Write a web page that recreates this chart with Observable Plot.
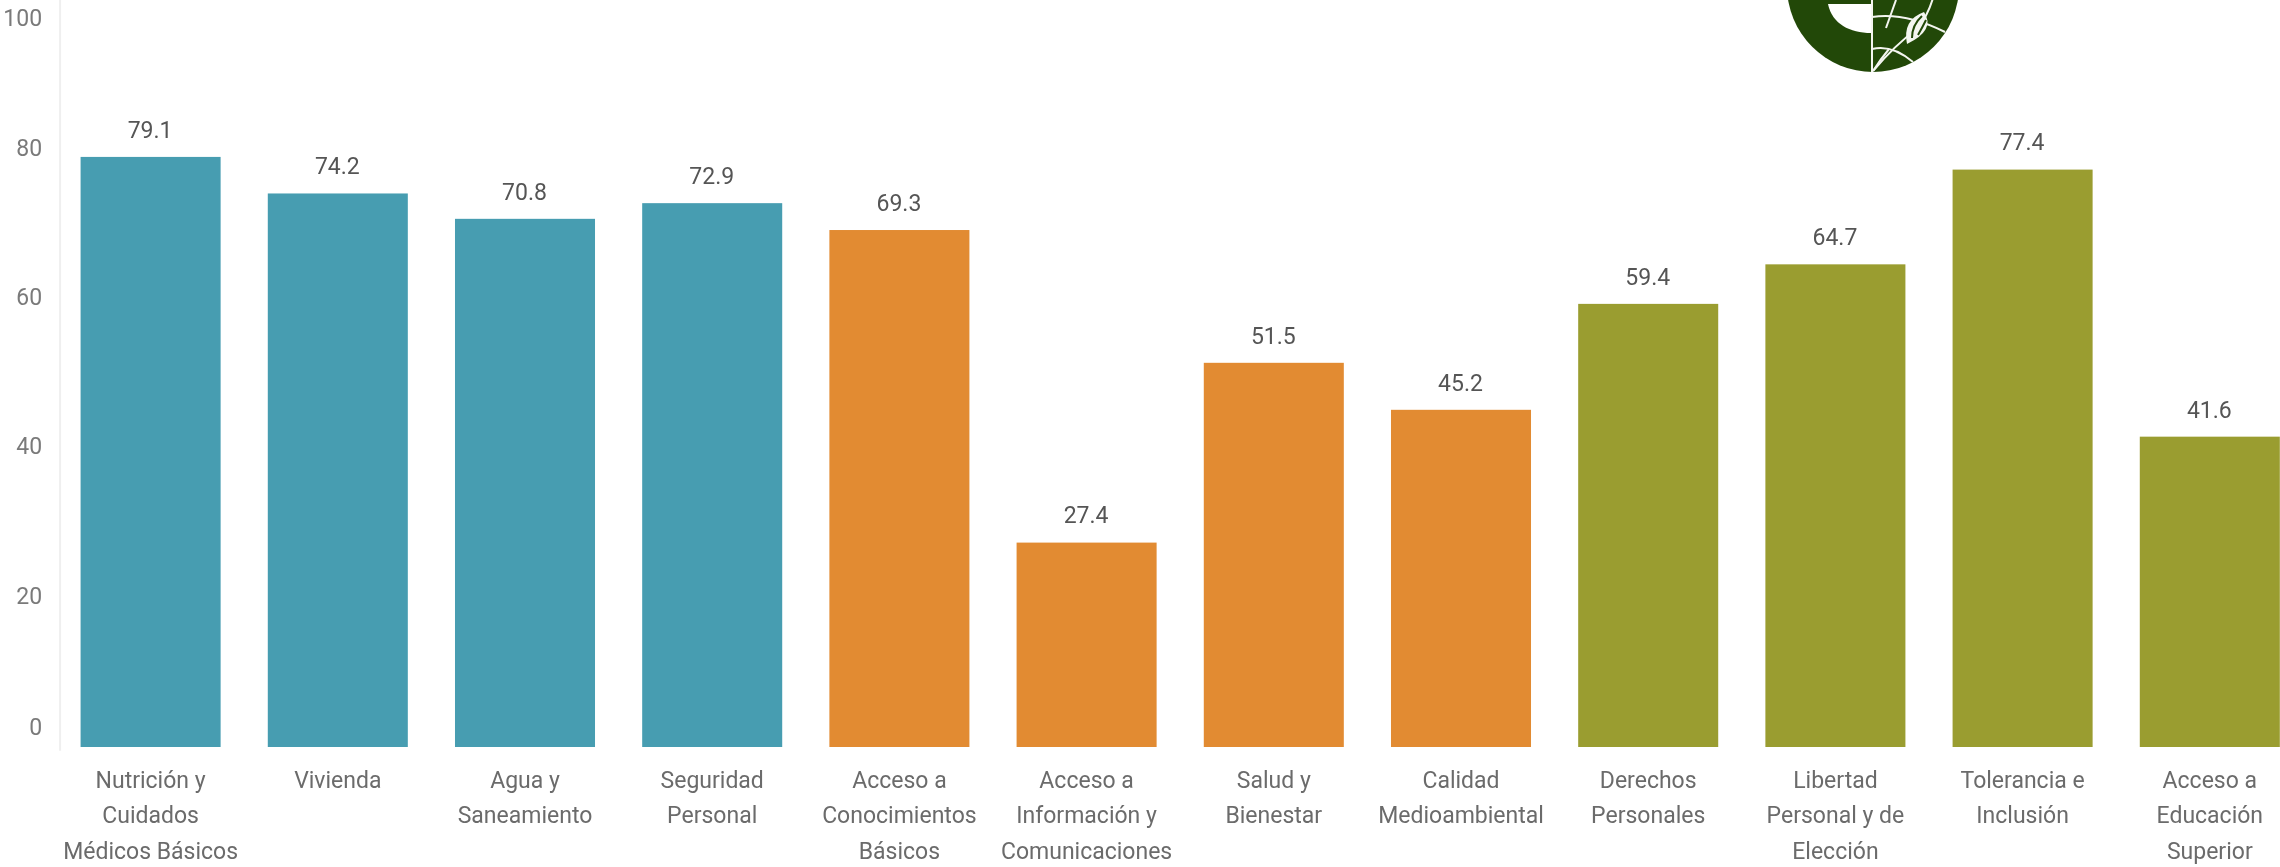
<!DOCTYPE html>
<html><head><meta charset="utf-8">
<script src="https://cdn.jsdelivr.net/npm/d3@7"></script>
<script src="https://cdn.jsdelivr.net/npm/@observablehq/plot@0.6"></script>
<style>
html,body{margin:0;padding:0;background:#fff;overflow:hidden}
#chart{position:relative;width:2280px;height:867px}
#chart>svg{position:absolute;left:0;top:0}
#chart text{filter:blur(.45px)}
</style></head><body><div id="chart"></div>
<script>
const categories=["Nutrición y Cuidados Médicos Básicos","Vivienda","Agua y Saneamiento","Seguridad Personal","Acceso a Conocimientos Básicos","Acceso a Información y Comunicaciones","Salud y Bienestar","Calidad Medioambiental","Derechos Personales","Libertad Personal y de Elección","Tolerancia e Inclusión","Acceso a Educación Superior"];
const labelLines=[["Nutrición y","Cuidados","Médicos Básicos"],["Vivienda"],["Agua y","Saneamiento"],["Seguridad","Personal"],["Acceso a","Conocimientos","Básicos"],["Acceso a","Información y","Comunicaciones"],["Salud y","Bienestar"],["Calidad","Medioambiental"],["Derechos","Personales"],["Libertad","Personal y de","Elección"],["Tolerancia e","Inclusión"],["Acceso a","Educación","Superior"]];
const values=[79.1,74.2,70.8,72.9,69.3,27.4,51.5,45.2,59.4,64.7,77.4,41.6];
const groups=["Necesidades","Necesidades","Necesidades","Necesidades","Bienestar","Bienestar","Bienestar","Bienestar","Oportunidades","Oportunidades","Oportunidades","Oportunidades"];
const groupNames=["Necesidades","Bienestar","Oportunidades"];
const groupColors=["#479db1","#e28b32","#9a9d30"];
const midTicks=[20,40,60,80];
const font="Roboto, sans-serif";
const ink="#6b6b6b";
const rows=categories.map((c,i)=>({c,v:values[i],g:groups[i],lines:labelLines[i].join("\n")}));
const tickText=(ticks,dy)=>Plot.text(ticks,{y:d=>d,x:()=>categories[0],dx:-109,textAnchor:"end",dy,fontSize:23,fill:"#7a7a7a",fontFamily:font});
const plot=Plot.plot({
  width:2280,height:867,
  marginTop:0,marginBottom:120,marginLeft:0,marginRight:0,
  style:{background:"#fff",fontFamily:font},
  x:{domain:categories,range:[57,2303.4],paddingInner:0.252,paddingOuter:0.126,round:false,axis:null},
  y:{domain:[0,100],range:[747,1],axis:null},
  color:{domain:groupNames,range:groupColors},
  marks:[
    Plot.ruleX([categories[0]],{dx:-91,y1:()=>-0.5,y2:()=>100.2,stroke:"#efefef",strokeWidth:2}),
    Plot.barY(rows,{x:"c",y:"v",fill:"g"}),
    Plot.text(rows,{x:"c",y:"v",text:d=>d.v.toFixed(1),dx:-1,dy:-27,fontSize:23,fill:"#555",fontFamily:font}),
    Plot.text(rows,{x:"c",y:()=>0,text:"lines",dx:-0.5,dy:15,lineHeight:1.55,fontSize:23,textAnchor:"middle",lineAnchor:"top",fill:ink,fontFamily:font}),
    tickText(midTicks,-2),
    tickText([0],-20),
    tickText([100],17)
  ]
});
const host=document.getElementById("chart");
host.appendChild(plot);
host.insertAdjacentHTML("beforeend",`<svg width="2280" height="867" aria-hidden="true" style="pointer-events:none">
<circle cx="1873" cy="-14" r="86" fill="#224808"/>
<path d="M1828 4 H1871 V33 C1850 33 1832 24 1828 4Z" fill="#fff"/>
<g fill="none" stroke="#f4f6f0" stroke-width="2">
<path d="M1872 -2 V72"/><path d="M1872 17 Q1905 12 1945 32"/><path d="M1872 49 Q1892 44 1913 62"/>
<path d="M1873 71 Q1895 45 1918 28 Q1928 15 1933 -2"/><path d="M1873 71 Q1880 60 1889 49"/><path d="M1886 28 L1896 0"/>
</g>
<path d="M1907 44 Q1902 20 1924 12 Q1936 30 1907 44Z" fill="#f4f6f0"/>
<g stroke="#224808" fill="none" stroke-width="2"><path d="M1912 38 Q1912 25 1922 16"/><path d="M1918 35 Q1922 28 1926 20"/></g>
</svg>`);
</script></body></html>
